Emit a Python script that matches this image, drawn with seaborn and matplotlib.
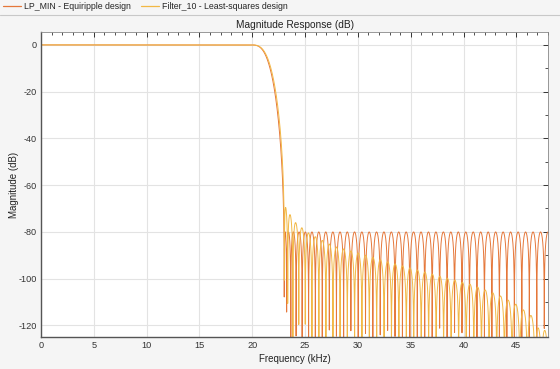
import numpy as np
import pandas as pd
import matplotlib
matplotlib.use('Agg')
import matplotlib.pyplot as plt
import seaborn as sns
from matplotlib.lines import Line2D
from matplotlib.ticker import MultipleLocator

# Filter specs (kHz / dB)
sample_rate_khz = 96
pass_edge_khz = 20
stop_edge_khz = 23
filter_orders = [134, 135]   # equiripple (even order), least-squares (odd order, null at fs/2)

# stopband lobe peaks
eq_peak_khz = [23.0, 48.0]
eq_peak_db = [-80, -80]
ls_peak_khz = [23.1, 24.0, 25.2, 26.4, 27.7, 28.9, 30.1, 32.3, 35.1, 37.9, 40.8, 43.6, 45.0, 46.5, 47.2]
ls_peak_db = [-69, -75.5, -80, -83, -86, -87.5, -89, -92, -95.5, -99, -102.5, -107.5, -111, -116, -122]

series_names = ['LP_MIN - Equiripple design', 'Filter_10 - Least-squares design']
series_colors = ['#E5773A', '#F2B845']

nyq = sample_rate_khz / 2


def basis(f, order):
    # amplitude basis of a linear-phase FIR: cos(k w) for even order, cos((k+1/2) w) for odd
    w = np.pi * np.asarray(f) / nyq
    k = np.arange(order // 2 + 1) if order % 2 == 0 else np.arange((order + 1) // 2) + 0.5
    return np.cos(np.outer(w, k))


def lawson(C, d, W, iters=150):
    # iteratively reweighted least squares -> weighted minimax
    v = np.ones(len(d)) / len(d)
    for _ in range(iters):
        s = np.sqrt(v) * W
        a = np.linalg.lstsq(C * s[:, None], d * s, rcond=None)[0]
        e = np.abs(W * (C @ a - d))
        v = v * e
        v /= v.sum()
    return a


def design(order, peak_khz, peak_db):
    f = np.concatenate([np.linspace(0, pass_edge_khz, 400),
                        np.linspace(stop_edge_khz, nyq, 800)])
    d = (f <= pass_edge_khz).astype(float)
    C = basis(f, order)
    env = 10 ** (np.interp(f, peak_khz, peak_db) / 20)
    fs_chk = np.linspace(stop_edge_khz, nyq, 3000)
    Cs = basis(fs_chk, order)
    env_chk = 10 ** (np.interp(fs_chk, peak_khz, peak_db) / 20)
    scale = env.min()
    lo, hi = -2.0, 6.0
    for _ in range(12):
        mid = (lo + hi) / 2
        W = np.where(d > 0, 10 ** mid, 1 / env) * scale
        a = lawson(C, d, W)
        if (np.abs(Cs @ a) / env_chk).max() > 1:
            hi = mid
        else:
            lo = mid
    W = np.where(d > 0, 10 ** lo, 1 / env) * scale
    return lawson(C, d, W, iters=300)


coefs = [design(filter_orders[0], eq_peak_khz, eq_peak_db),
         design(filter_orders[1], ls_peak_khz, ls_peak_db)]

freq = np.linspace(0, nyq, 12001)
frames = []
for name, order, a in zip(series_names, filter_orders, coefs):
    mag = 20 * np.log10(np.maximum(np.abs(basis(freq, order) @ a), 1e-10))
    frames.append(pd.DataFrame({'freq': freq, 'mag': mag, 'series': name}))
df = pd.concat(frames, ignore_index=True)

sns.set_theme(style='white')
plt.rcParams['font.family'] = ['Liberation Sans', 'DejaVu Sans']
plt.rcParams['axes.unicode_minus'] = False

fig = plt.figure(figsize=(5.6, 3.69), dpi=100, facecolor='#f5f5f5')
ax = fig.add_axes([0.0732, 0.0867, 0.9054, 0.8258])
ax.set_facecolor('white')
sns.lineplot(data=df, x='freq', y='mag', hue='series', palette=series_colors,
             estimator=None, sort=False, lw=0.7, ax=ax, legend=False)

ax.set_xlim(0, nyq)
ax.set_ylim(-125, 5.4)
ax.xaxis.set_major_locator(MultipleLocator(5))
ax.xaxis.set_minor_locator(MultipleLocator(1))
ax.yaxis.set_major_locator(MultipleLocator(20))
ax.yaxis.set_minor_locator(MultipleLocator(10))
ax.grid(True, which='major', color='#e3e3e3', lw=0.8)
ax.set_axisbelow(True)
ax.tick_params(which='both', direction='in', top=True, right=True,
               colors='#333333', labelsize=6.6, pad=3)
ax.tick_params(which='major', length=3.5, width=0.7)
ax.tick_params(which='minor', length=2, width=0.6)
for side in ['left', 'bottom']:
    ax.spines[side].set_color('#555555')
    ax.spines[side].set_linewidth(1.0)
for side in ['top', 'right']:
    ax.spines[side].set_color('#888888')
    ax.spines[side].set_linewidth(0.6)

ax.set_title('Magnitude Response (dB)', fontsize=7.3, color='#222222', pad=3)
ax.set_xlabel('Frequency (kHz)', fontsize=7.0, color='#222222', labelpad=3)
ax.set_ylabel('Magnitude (dB)', fontsize=7.0, color='#222222', labelpad=-0.5)

handles = [Line2D([], [], color=c, lw=0.9) for c in series_colors]
fig.legend(handles, series_names, loc='upper left', bbox_to_anchor=(3 / 560, 1 - 2 / 369),
           ncol=2, frameon=False, fontsize=6.3, handlelength=2.1, borderpad=0,
           borderaxespad=0, handletextpad=0.3, columnspacing=1.1)
fig.add_artist(Line2D([0, 1], [1 - 14.5 / 369] * 2, color='#c8c8c8', lw=0.8,
                      transform=fig.transFigure))

fig.savefig('out.png', dpi=100, facecolor=fig.get_facecolor())
